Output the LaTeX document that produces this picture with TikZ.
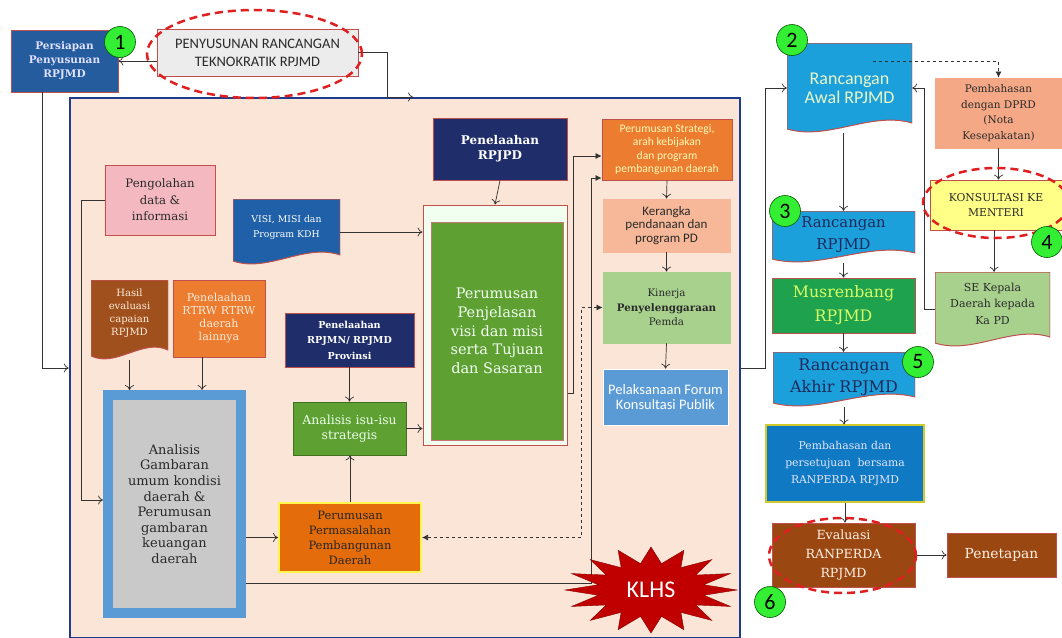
\documentclass[tikz,border=0pt]{standalone}
\usepackage{fontspec}
\setmainfont{DejaVu Serif}
\newfontfamily\calib{Carlito}
\usetikzlibrary{shapes.geometric, positioning, calc, arrows.meta}

\definecolor{framefill}{HTML}{FBE5D6}
\definecolor{frameedge}{HTML}{1F3C8C}
\definecolor{boxred}{HTML}{C0504D}
\definecolor{prepblue}{HTML}{245C9E}
\definecolor{navy}{HTML}{1F2D6B}
\definecolor{visiblue}{HTML}{1F60A8}
\definecolor{pinkbox}{HTML}{F4B9C0}
\definecolor{brownbox}{HTML}{A0501C}
\definecolor{orangebox}{HTML}{EC7C30}
\definecolor{graybox}{HTML}{C9C9C9}
\definecolor{paleblue}{HTML}{5B9BD5}
\definecolor{leafgreen}{HTML}{5EA032}
\definecolor{deeporange}{HTML}{E46C0A}
\definecolor{salmon}{HTML}{F6B898}
\definecolor{sagegreen}{HTML}{A9D18E}
\definecolor{klhsred}{HTML}{C00000}
\definecolor{cyanbox}{HTML}{1CA0DC}
\definecolor{musgreen}{HTML}{1EA24E}
\definecolor{seablue}{HTML}{0F7AC3}
\definecolor{rust}{HTML}{9A4712}
\definecolor{dprdpeach}{HTML}{F4A886}
\definecolor{lemon}{HTML}{FFFF88}
\definecolor{numgreen}{HTML}{33EE33}
\definecolor{ringred}{HTML}{E02020}
\definecolor{darktext}{HTML}{2A2A2A}
\definecolor{inknavy}{HTML}{1F2A5A}
\definecolor{paletext}{HTML}{E8F5C8}

\begin{document}
\begin{tikzpicture}[
  x=1pt, y=-1pt,
  box/.style={
    rectangle,
    draw=boxred,
    line width=0.8pt,
    align=center,
    inner sep=2pt,
  },
  docbox/.style={
    align=center,
    inner sep=2pt,
    path picture={
      \filldraw[fill=#1, draw=boxred, line width=1pt]
        (path picture bounding box.north west) -- (path picture bounding box.north east)
        -- ([yshift=10pt]path picture bounding box.south east)
        .. controls ($(path picture bounding box.south west)!0.67!(path picture bounding box.south east)+(0pt,22pt)$)
        and ($(path picture bounding box.south west)!0.33!(path picture bounding box.south east)+(0pt,-8pt)$)
        .. ([yshift=4pt]path picture bounding box.south west) -- cycle;
    },
  },
  numdot/.style={
    circle,
    fill=numgreen,
    draw=green!35!black,
    line width=0.6pt,
    minimum size=31,
    inner sep=0pt,
    font=\calib\fontsize{22}{22}\selectfont,
  },
  ring/.style={
    ellipse,
    draw=ringred,
    line width=2.5pt,
    dash pattern=on 8pt off 5pt,
  },
  link/.style={-{To[length=5pt,width=9pt]}, line width=0.7pt, draw=black!80},
  flink/.style={-{Latex[length=6pt,width=6pt]}, line width=0.7pt, draw=black!80},
  dlink/.style={{Latex[length=6pt,width=6pt]}-{Latex[length=6pt,width=6pt]}, dashed, line width=0.7pt, draw=black!80},
]

  \useasboundingbox (0,0) rectangle (1062,637);
  \fill[white] (0,0) rectangle (1062,637);

  % === main frame ===
  \node[draw=frameedge, fill=framefill, line width=2.5pt, minimum width=670, minimum height=540] (frame) at (405,368) {};

  % === top left ===
  \node[box, fill=prepblue, text=blue!12, minimum width=107, minimum height=62,
        font=\bfseries\fontsize{10.5}{14}\selectfont] (prep) at (64.5,61) {Persiapan\\Penyusunan\\RPJMD};
  \node[box, fill=gray!15, text=darktext, minimum width=201, minimum height=47,
        font=\calib\fontsize{14.5}{18}\selectfont] (tekno) at (257.5,52.5) {PENYUSUNAN RANCANGAN\\TEKNOKRATIK RPJMD};
  \coordinate (frametop) at (413,97);

  % === inside frame ===
  \node[box, fill=navy, text=white, minimum width=134, minimum height=62,
        font=\bfseries\fontsize{12}{15}\selectfont] (rpjpd) at (500,149) {Penelaahan\\RPJPD};
  \node[box, fill=orangebox, text=yellow!30, minimum width=130, minimum height=61,
        font=\calib\fontsize{11.6}{13.5}\selectfont] (strat) at (667,149.5) {Perumusan Strategi,\\arah kebijakan\\dan program\\pembangunan daerah};
  \node[box, draw=salmon, fill=salmon, text=darktext, minimum width=127, minimum height=53,
        font=\calib\fontsize{13}{13.5}\selectfont] (kerangka) at (666.5,225.5) {Kerangka\\pendanaan dan\\program PD};
  \node[box, draw=sagegreen, fill=sagegreen, text=darktext, minimum width=127, minimum height=71,
        font=\fontsize{10.3}{14.5}\selectfont] (kinerja) at (666.5,307.5) {Kinerja\\\textbf{Penyelenggaraan}\\Pemda};
  \node[box, draw=white, fill=paleblue, text=white, minimum width=125, minimum height=56,
        font=\calib\fontsize{14.5}{15}\selectfont] (forum) at (665.5,397) {Pelaksanaan Forum\\Konsultasi Publik};

  \node[box, fill=green!6, line width=1pt, minimum width=144, minimum height=240] (penj) at (495,325) {};
  \node[box, draw=boxred!80, fill=leafgreen, text=green!5, minimum width=132, minimum height=218,
        font=\fontsize{14.5}{18.7}\selectfont] (penjin) at (497,331) {Perumusan\\Penjelasan\\visi dan misi\\serta Tujuan\\dan Sasaran};

  \node[box, fill=pinkbox, text=darktext, minimum width=110, minimum height=70,
        font=\fontsize{11.7}{16.5}\selectfont] (olah) at (160,200) {Pengolahan\\data \&\\informasi};
  \node[docbox=visiblue, text=white, minimum width=107, minimum height=66,
        font=\fontsize{9.3}{15}\selectfont] (visi) at (286.5,232) {VISI, MISI dan\\Program KDH\\[-4pt]};
  \node[docbox=brownbox, text=orange!15, minimum width=77, minimum height=80,
        font=\fontsize{10}{13}\selectfont] (hasil) at (129.5,320) {Hasil\\evaluasi\\capaian\\RPJMD\\[2pt]};
  \node[box, fill=orangebox, text=orange!15, minimum width=92, minimum height=77,
        font=\fontsize{11}{13}\selectfont] (rtrw) at (219,318.5) {Penelaahan\\RTRW RTRW\\daerah\\lainnya};
  \node[box, fill=navy, text=white, minimum width=129, minimum height=54,
        font=\bfseries\fontsize{9.6}{15.5}\selectfont] (rpjmn) at (349.5,340) {Penelaahan\\RPJMN/ RPJMD\\Provinsi};
  \node[box, draw=leafgreen!70!black, fill=leafgreen, text=green!8, minimum width=113, minimum height=53,
        font=\fontsize{12.5}{15}\selectfont] (isu) at (349.5,428.5) {Analisis isu-isu\\strategis};
  \node[box, draw=paleblue, fill=graybox, line width=10pt, text=darktext, minimum width=133, minimum height=218,
        font=\fontsize{13}{15.6}\selectfont] (anal) at (174.5,504) {Analisis\\Gambaran\\umum kondisi\\daerah \&\\Perumusan\\gambaran\\keuangan\\daerah};
  \node[box, draw=yellow!70, fill=deeporange, line width=2pt, text=black!85, minimum width=142, minimum height=69,
        font=\fontsize{11.5}{15}\selectfont] (masalah) at (350,537.5) {Perumusan\\Permasalahan\\Pembangunan\\Daerah};

  % === right column ===
  \node[docbox=cyanbox, text=paletext, minimum width=125, minimum height=90,
        font=\calib\fontsize{18}{19}\selectfont] (awal) at (849.5,88) {Rancangan\\Awal RPJMD};
  \node[box, draw=dprdpeach, fill=dprdpeach, text=darktext, minimum width=127, minimum height=70,
        font=\fontsize{10.5}{15.5}\selectfont] (dprd) at (998.5,113) {Pembahasan\\dengan DPRD\\(Nota\\Kesepakatan)};
  \node[box, fill=lemon, text=darktext, minimum width=132, minimum height=50,
        font=\fontsize{10.8}{15}\selectfont] (kons) at (996,205) {KONSULTASI KE\\MENTERI};
  \node[docbox=sagegreen, text=darktext, minimum width=115, minimum height=75,
        font=\fontsize{11}{16.5}\selectfont] (se) at (992.5,309.5) {SE Kepala\\Daerah kepada\\Ka PD\\[-4.5pt]};
  \node[docbox=cyanbox, text=inknavy, minimum width=143, minimum height=52,
        font=\fontsize{14.8}{22}\selectfont] (ranc) at (843.5,237) {Rancangan\\RPJMD\\[-15pt]};
  \node[box, fill=musgreen, text=green!25!yellow!60, minimum width=143, minimum height=55,
        font=\fontsize{15.8}{24}\selectfont] (musren) at (843.5,305.5) {Musrenbang\\RPJMD};
  \node[docbox=cyanbox, text=inknavy, minimum width=142, minimum height=55,
        font=\fontsize{16}{22}\selectfont] (akhir) at (844,379.5) {Rancangan\\Akhir RPJMD\\[-15pt]};
  \node[box, draw=yellow!80!black, fill=seablue, text=blue!10, line width=1.2pt, minimum width=158, minimum height=77,
        font=\fontsize{10.8}{17}\selectfont] (bahas) at (845,463.5) {Pembahasan dan\\persetujuan\ \ bersama\\RANPERDA RPJMD};
  \node[box, fill=rust, text=orange!10, minimum width=143, minimum height=64,
        font=\fontsize{12.6}{19}\selectfont] (eval) at (843.5,555) {Evaluasi\\RANPERDA\\RPJMD};
  \node[box, fill=rust, text=orange!10, minimum width=109, minimum height=44,
        font=\fontsize{13.8}{15}\selectfont] (tetap) at (1001.5,555) {Penetapan};

  % === connectors ===
  \draw[link] (tekno.west |- prep.east) -- (prep.east);
  \draw[link] (tekno.east) -- ++(29,0) |- (frametop);
  \draw[link] ([xshift=-22.5pt]prep.south) |- (frame.west);
  \draw[link] (olah.west) -- ++(-23,0) |- ([yshift=4pt]anal.west);
  \draw[link] (hasil.south) -- (hasil.south |- anal.north);
  \draw[link] ([xshift=-17pt]rtrw.south) -- ([xshift=-17pt]rtrw.south |- anal.north);
  \draw[link] (rpjmn.south) -- (rpjmn.south |- isu.north);
  \draw[link] (masalah.north) -- (masalah.north |- isu.south);
  \draw[link] (anal.east |- masalah.west) -- (masalah.west);
  \draw[link] (isu.east) -- (isu.east -| penj.west);
  \draw[link] (visi.east) -- (visi.east -| penj.west);
  \draw[link] (rpjpd.south) -- (penj.north);
  \draw[flink] ([yshift=-68pt]penj.east) -- ++(6,0) |- ([yshift=-6.5pt]strat.west);
  \draw[flink] ([yshift=-79pt]anal.east) -| ([xshift=-10pt,yshift=-28.5pt]strat.west) -- ([yshift=-28.5pt]strat.west);
  \draw[link] (strat.south) -- (kerangka.north);
  \draw[link] (kerangka.south) -- (kinerja.north);
  \draw[link] (kinerja.south) -- (forum.north);
  \draw[dlink] (kinerja.west) -- ++(-21.5,0) |- (masalah.east);

  \draw[link] (frame.east) -- ++(24,0) |- (awal.west);
  \draw[flink, dashed] ([xshift=23.5pt,yshift=27pt]awal.center) -| (dprd.north);
  \draw[link] (ranc.north |- awal.south) -- (ranc.north);
  \draw[link] (ranc.south) -- (ranc.south |- musren.north);
  \draw[link] (musren.south) -- (musren.south |- akhir.north);
  \draw[link] (akhir.south) -- (akhir.south |- bahas.north);
  \draw[link] (bahas.south) -- (bahas.south |- eval.north);
  \draw[link] (eval.east) -- (tetap.west);
  \draw[link] (dprd.south) -- (dprd.south |- kons.north);
  \draw[link] ([xshift=-2pt]kons.south) -- ([xshift=-2pt]kons.south |- se.north);
  \draw[link] (se.west) -- ++(-10,0) |- (awal.east);

  % KLHS star
  \node[star, star points=16, star point ratio=1.6, fill=klhsred, draw=klhsred!70!black,
        minimum size=86, inner sep=0pt, xscale=2] (klhs) at (651,590) {};
  \node[text=white, font=\calib\fontsize{24}{24}\selectfont] (klhstext) at (klhs) {KLHS};

  % dashed rings and step numbers
  \node[ring, minimum width=215, minimum height=88] (ring1) at (254.5,54) {};
  \node[ring, minimum width=146, minimum height=70] (ring4) at (996,203) {};
  \node[ring, minimum width=147, minimum height=75] (ring6) at (842.5,555.5) {};
  \node[numdot] (n1) at (120,42) {1};
  \node[numdot] (n2) at (792,40) {2};
  \node[numdot] (n3) at (785,211) {3};
  \node[numdot] (n4) at (1047,242) {4};
  \node[numdot] (n5) at (918,362) {5};
  \node[numdot] (n6) at (770,602) {6};

\end{tikzpicture}
\end{document}
